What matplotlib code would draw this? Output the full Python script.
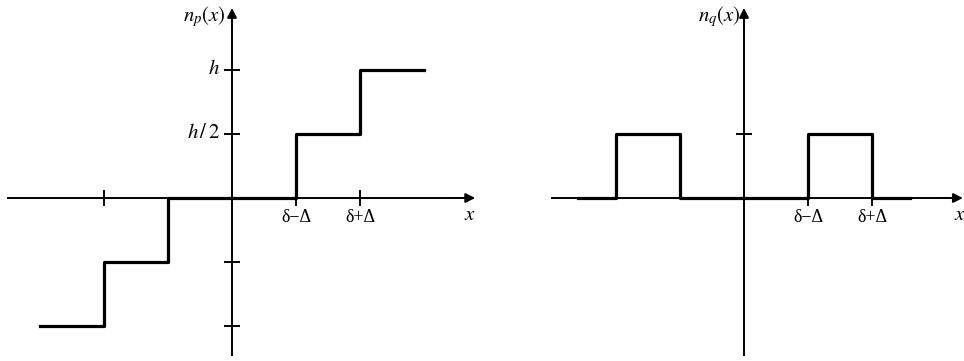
import matplotlib.pyplot as plt

plt.rcParams['mathtext.fontset'] = 'stix'
plt.rcParams['font.family'] = ['Liberation Serif', 'DejaVu Serif']

# staircase n_p(x): step edges and levels (units of h/2)
np_edges = [-3, -2, -1, 1, 2, 3]
np_levels = [-2, -1, 0, 1, 2, 2]
np_yticks = [2, 1, -1, -2]
np_ylabels = ['$h$', '$h\\,/\\,2$', '', '']
np_xticks = [-2, 1, 2]

# pulse train n_q(x)
nq_edges = [-2.6, -2, -1, 1, 2, 2.6]
nq_levels = [0, 1, 0, 1, 0, 0]
nq_yticks = [1]
nq_xticks = [1, 2]

xlabels = {1: 'δ−Δ', 2: 'δ+Δ'}

fig = plt.figure(figsize=(9.64, 3.61), dpi=100)

def draw_axes(ax, xlo, xhi, ylo, yhi):
    ax.plot([xlo, xhi - 0.1], [0, 0], color='k', lw=1.4)
    ax.plot([0, 0], [ylo, yhi - 0.1], color='k', lw=1.4)
    ax.annotate('', xy=(xhi, 0), xytext=(xhi - 0.3, 0),
                arrowprops=dict(arrowstyle='-|>', color='k', lw=1.4,
                                mutation_scale=14, shrinkA=0, shrinkB=0))
    ax.annotate('', xy=(0, yhi), xytext=(0, yhi - 0.3),
                arrowprops=dict(arrowstyle='-|>', color='k', lw=1.4,
                                mutation_scale=14, shrinkA=0, shrinkB=0))

def ticks(ax, xt, yt):
    for t in xt:
        ax.plot([t, t], [-0.11, 0.11], color='k', lw=1.4)
    for t in yt:
        ax.plot([-0.11, 0.11], [t, t], color='k', lw=1.4)

# left panel
ax1 = fig.add_axes([0, 0, 0.5, 1])
ax1.set_xlim(-232 / 64, 250 / 64)
ax1.set_ylim(-163 / 64, 198 / 64)
ax1.axis('off')
draw_axes(ax1, -3.5, 3.8, -2.45, 2.97)
ticks(ax1, np_xticks, np_yticks)
ax1.step(np_edges, np_levels, where='post', color='k', lw=2.3)
for t, lab in zip(np_yticks, np_ylabels):
    ax1.text(-0.18, t, lab, ha='right', va='center', fontsize=15)
for t in (1, 2):
    ax1.text(t, -0.3, xlabels[t], ha='center', va='center', fontsize=13)
ax1.text(3.72, -0.28, '$x$', ha='center', va='center', fontsize=15)
ax1.text(-0.1, 2.84, '$n_p(x)$', ha='right', va='center', fontsize=15)

# right panel
ax2 = fig.add_axes([0.5, 0, 0.5, 1])
ax2.set_xlim(-262 / 64, 220 / 64)
ax2.set_ylim(-163 / 64, 198 / 64)
ax2.axis('off')
draw_axes(ax2, -3.0, 3.42, -2.45, 2.97)
ticks(ax2, nq_xticks, nq_yticks)
ax2.step(nq_edges, nq_levels, where='post', color='k', lw=2.3)
for t in (1, 2):
    ax2.text(t, -0.3, xlabels[t], ha='center', va='center', fontsize=13)
ax2.text(3.37, -0.28, '$x$', ha='center', va='center', fontsize=15)
ax2.text(-0.05, 2.84, '$n_q(x)$', ha='right', va='center', fontsize=15)

fig.savefig('out.png', dpi=100)
